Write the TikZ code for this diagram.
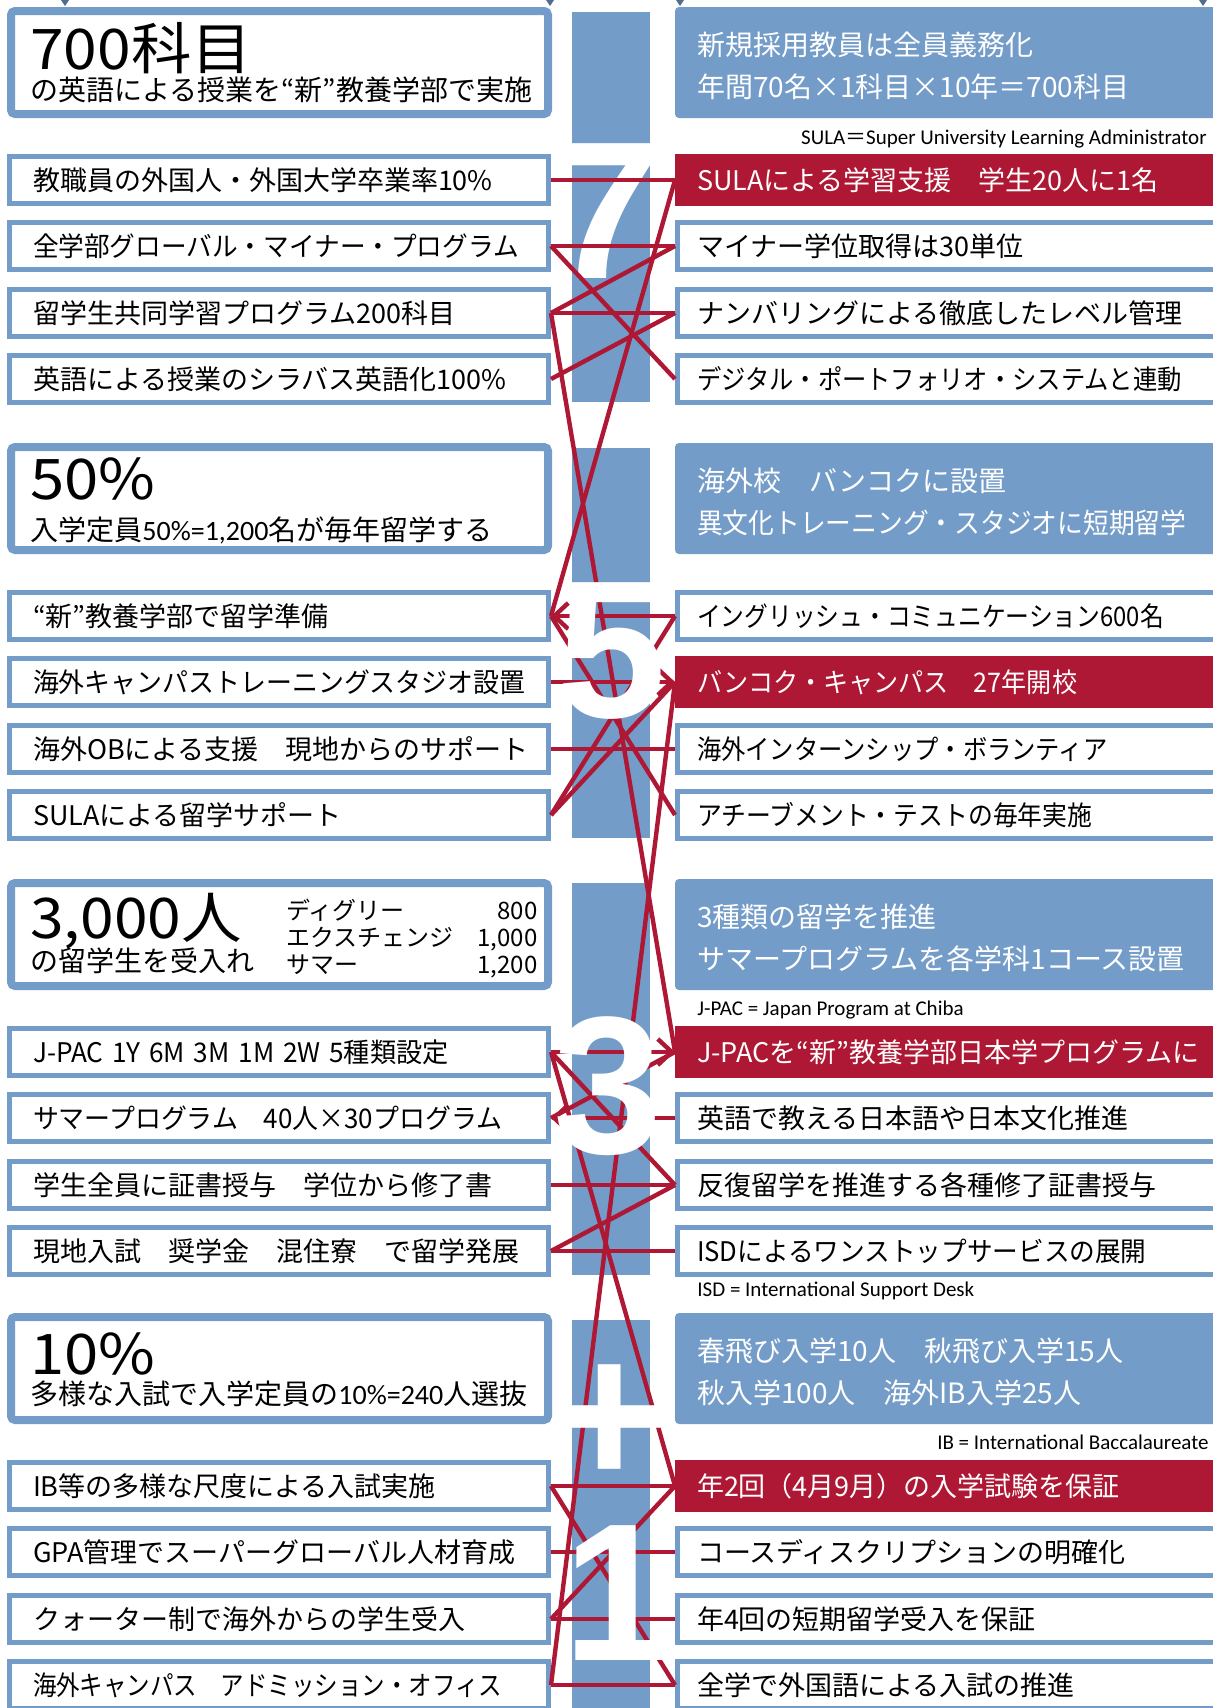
\documentclass[tikz,border=0pt]{standalone}
\usepackage{fontspec}
\usepackage{graphicx}
\usetikzlibrary{arrows.meta}
\newfontfamily\jp{Noto Sans CJK JP}
\newfontfamily\lat{Carlito}
\newfontfamily\numfont{Liberation Sans}
\definecolor{barblue}{RGB}{116,156,200}
\definecolor{linkred}{RGB}{174,24,52}

\tikzset{
  lhead/.style={draw=barblue, line width=4pt, fill=white, rounded corners=2pt,
    minimum width=268.5pt, minimum height=51.5pt, anchor=north west},
  rhead/.style={fill=barblue, rounded corners=2pt, outer sep=0pt, text=white,
    minimum height=55.5pt, text width=290pt, inner xsep=11pt, align=left,
    anchor=north west, font=\jp\fontsize{14}{21}\selectfont,
    execute at begin node=\rule{0pt}{15.5pt}},
  headbig/.style={anchor=base west, inner sep=0pt, font=\jp\fontsize{28}{28}\selectfont},
  headsub/.style={anchor=base west, inner sep=0pt, font=\jp\fontsize{14}{16}\selectfont},
  litem/.style={draw=barblue, line width=2.5pt, fill=white, minimum height=23.5pt,
    text width=246pt, inner xsep=11.75pt, inner ysep=0pt, align=left, anchor=west,
    font=\jp\fontsize{13.5}{16}\selectfont},
  ritem/.style={litem, text width=290pt, inner xsep=9.75pt},
  rred/.style={ritem, draw=linkred, fill=linkred, text=white},
  abbrev/.style={inner sep=0pt, font=\lat\fontsize{10.5}{12}\selectfont},
  bignum/.style={anchor=base, inner sep=0pt, text=white,
    font=\numfont\bfseries\fontsize{98}{98}\selectfont},
  redline/.style={draw=linkred, line width=2.2pt},
}

\begin{document}
\begin{tikzpicture}[x=0.5pt, y=-0.5pt, >={Straight Barb[length=7pt,width=13pt]}]
  \useasboundingbox (0,0) rectangle (1213,1708);
  \clip (0,0) rectangle (1213,1708);

  % Marks at the top edge
  \fill[barblue!70!black] (61,0) -- (69,0) -- (65,6) -- cycle;
  \fill[barblue!70!black] (546,0) -- (554,0) -- (550,6) -- cycle;
  \fill[barblue!70!black] (676,0) -- (684,0) -- (680,6) -- cycle;
  \fill[barblue!70!black] (1199,0) -- (1207,0) -- (1203,6) -- cycle;

  % Centre bars
  \fill[barblue] (572,12) rectangle (650,402);
  \fill[barblue] (572,448) rectangle (650,838);
  \fill[barblue] (572,883) rectangle (650,1275);
  \fill[barblue] (572,1320) rectangle (650,1720);

  % Block 7
  \node[lhead] (LH1) at (7,7) {};
  \node[headbig] (big1) at (30,69) {\scalebox{1.08}[1]{700科目}};
  \node[headsub] (sub1) at (30,100) {の英語による授業を“新”教養学部で実施};
  \node[rhead] (RH1) at (675,7) {新規採用教員は全員義務化\\年間70名×1科目×10年＝700科目};
  \node[abbrev, anchor=east] (sula) at (1207,139) {SULA{\jp ＝}Super University Learning Administrator};
  \node[litem] (L11) at (7,180) {教職員の外国人・外国大学卒業率10\%};
  \node[litem] (L12) at (7,246) {\scalebox{0.95}[1]{全学部グローバル・マイナー・プログラム}};
  \node[litem] (L13) at (7,313) {留学生共同学習プログラム200科目};
  \node[litem] (L14) at (7,379) {英語による授業のシラバス英語化100\%};
  \node[rred] (R11) at (675,180) {SULAによる学習支援　学生20人に1名};
  \node[ritem] (R12) at (675,246) {マイナー学位取得は30単位};
  \node[ritem] (R13) at (675,313) {ナンバリングによる徹底したレベル管理};
  \node[ritem] (R14) at (675,379) {\scalebox{0.9}[1]{デジタル・ポートフォリオ・システムと連動}};

  % Block 5
  \node[lhead] (LH2) at (7,443) {};
  \node[headbig] (big2) at (30,499) {\scalebox{1.1}[1]{50\%}};
  \node[headsub] (sub2) at (30,540) {入学定員{\lat 50\%=1,200}名が毎年留学する};
  \node[rhead] (RH2) at (675,443) {海外校　バンコクに設置\\\scalebox{0.92}[1]{異文化トレーニング・スタジオに短期留学}};
  \node[litem] (L21) at (7,616) {“新”教養学部で留学準備};
  \node[litem] (L22) at (7,682) {\scalebox{0.96}[1]{海外キャンパストレーニングスタジオ設置}};
  \node[litem] (L23) at (7,749) {海外OBによる支援　現地からのサポート};
  \node[litem] (L24) at (7,815) {SULAによる留学サポート};
  \node[ritem] (R21) at (675,616) {\scalebox{0.88}[1]{イングリッシュ・コミュニケーション600名}};
  \node[rred] (R22) at (675,682) {\scalebox{0.93}[1]{バンコク・キャンパス　27年開校}};
  \node[ritem] (R23) at (675,749) {\scalebox{0.9}[1]{海外インターンシップ・ボランティア}};
  \node[ritem] (R24) at (675,815) {\scalebox{0.92}[1]{アチーブメント・テストの毎年実施}};

  % Block 3
  \node[lhead] (LH3) at (7,879) {};
  \node[headbig] (big3) at (30,938) {\scalebox{1.08}[1]{3,000人}};
  \node[headsub] (sub3) at (30,971) {の留学生を受入れ};
  \node[anchor=east, inner sep=0pt, font=\jp\fontsize{12}{13}\selectfont] (kinds) at (538,940)
    {\begin{tabular}{@{}l@{\hspace{12pt}}r@{}}ディグリー & 800\\ エクスチェンジ & 1,000\\ サマー & 1,200\end{tabular}};
  \node[rhead] (RH3) at (675,879) {3種類の留学を推進\\サマープログラムを各学科1コース設置};
  \node[abbrev, anchor=west] (jpac) at (697,1010) {J-PAC = Japan Program at Chiba};
  \node[litem] (L31) at (7,1052) {\scalebox{0.97}[1]{J-PAC 1Y 6M 3M 1M 2W 5種類設定}};
  \node[litem] (L32) at (7,1118) {\scalebox{0.96}[1]{サマープログラム　40人×30プログラム}};
  \node[litem] (L33) at (7,1185) {学生全員に証書授与　学位から修了書};
  \node[litem] (L34) at (7,1251) {現地入試　奨学金　混住寮　で留学発展};
  \node[rred] (R31) at (675,1052) {J-PACを“新”教養学部日本学プログラムに};
  \node[ritem] (R32) at (675,1118) {英語で教える日本語や日本文化推進};
  \node[ritem] (R33) at (675,1185) {反復留学を推進する各種修了証書授与};
  \node[ritem] (R34) at (675,1251) {\scalebox{0.95}[1]{ISDによるワンストップサービスの展開}};
  \node[abbrev, anchor=west] (isd) at (697,1291) {ISD = International Support Desk};

  % Block +1
  \node[lhead] (LH4) at (7,1313) {};
  \node[headbig] (big4) at (30,1374) {\scalebox{1.1}[1]{10\%}};
  \node[headsub] (sub4) at (30,1404) {多様な入試で入学定員の{\lat 10\%=240}人選抜};
  \node[rhead] (RH4) at (675,1313) {春飛び入学10人　秋飛び入学15人\\秋入学100人　海外IB入学25人};
  \node[abbrev, anchor=east] (ib) at (1209,1442) {IB = International Baccalaureate};
  \node[litem] (L41) at (7,1486) {IB等の多様な尺度による入試実施};
  \node[litem] (L42) at (7,1552) {GPA管理でスーパーグローバル人材育成};
  \node[litem] (L43) at (7,1619) {クォーター制で海外からの学生受入};
  \node[litem] (L44) at (7,1685) {\scalebox{0.87}[1]{海外キャンパス　アドミッション・オフィス}};
  \node[rred] (R41) at (675,1486) {年2回（4月9月）の入学試験を保証};
  \node[ritem] (R42) at (675,1552) {コースディスクリプションの明確化};
  \node[ritem] (R43) at (675,1619) {年4回の短期留学受入を保証};
  \node[ritem] (R44) at (675,1685) {全学で外国語による入試の推進};

  % Big seven sits under the links
  \node[bignum] (seven) at (605,278) {7};

  % Links of block 7
  \draw[redline] (L11.east) -- (R11.west);
  \draw[redline] (L12.east) -- (R12.west);
  \draw[redline] (L12.east) -- (R14.west);
  \draw[redline] (L13.east) -- (R12.west);
  \draw[redline] (L13.east) -- (R13.west);
  \draw[redline] (L14.east) -- (R13.west);

  % Links of block 5
  \draw[redline] (R11.west) -- (L21.east);
  \draw[redline, ->] (R21.west) -- (L21.east);
  \draw[redline] (L21.east) -- (R24.west);
  \draw[redline, ->] (L22.east) -- (R22.west);
  \draw[redline] (L23.east) -- (R23.west);
  \draw[redline] (L24.east) -- (R22.west);
  \draw[redline] (L24.east) -- (R21.west);

  % Links of block 3
  \draw[redline] (L13.east) -- (R31.west);
  \draw[redline, ->] (L31.east) -- (R31.west);
  \draw[redline] (L31.east) -- (R33.west);
  \draw[redline, ->] (R32.west) -- (L32.east);
  \draw[redline] (L32.east) -- (R31.west);
  \draw[redline] (L33.east) -- (R33.west);
  \draw[redline] (L34.east) -- (R33.west);
  \draw[redline] (L34.east) -- (R34.west);

  % Links of block +1
  \draw[redline] (R22.west) -- (L44.east);
  \draw[redline] (L31.east) -- (R41.west);
  \draw[redline] (L41.east) -- (R41.west);
  \draw[redline] (L41.east) -- (R44.west);
  \draw[redline] (L42.east) -- (R42.west);
  \draw[redline] (L43.east) -- (R43.west);
  \draw[redline] (L43.east) -- (R41.west);
  \draw[redline] (L44.east) -- (R44.west);

  % Big figures over the links
  \node[bignum] (five) at (612,717) {5};
  \node[bignum] (three) at (608,1153) {3};
  \node[bignum, font=\numfont\bfseries\fontsize{103}{103}\selectfont] (plus) at (610,1485) {+};
  \node[bignum] (one) at (618,1660) {1};
\end{tikzpicture}
\end{document}
